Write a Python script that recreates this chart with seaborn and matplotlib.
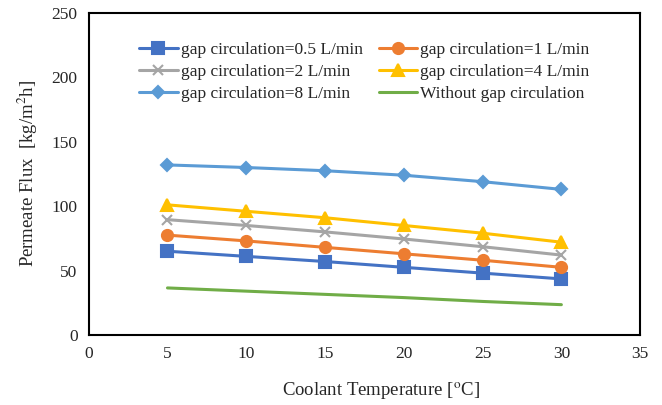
import pandas as pd
import matplotlib.pyplot as plt
import seaborn as sns

# data
temperature = [5, 10, 15, 20, 25, 30]
flux_05 = [65, 61, 57, 52.5, 48, 43.5]
flux_1 = [77.5, 73, 68, 63, 58, 52.5]
flux_2 = [89.5, 85, 80, 74.5, 68.5, 62]
flux_4 = [101, 96, 91, 85, 79, 72]
flux_8 = [132, 130, 127.5, 124, 119, 113]
flux_none = [36.5, 34, 31.5, 29, 26, 23.5]

labels = ["gap circulation=0.5 L/min", "gap circulation=1 L/min",
          "gap circulation=2 L/min", "gap circulation=4 L/min",
          "gap circulation=8 L/min", "Without gap circulation"]
series = [flux_05, flux_1, flux_2, flux_4, flux_8, flux_none]
colors = ["#4472C4", "#ED7D31", "#A5A5A5", "#FFC000", "#5B9BD5", "#70AD47"]
markers = ["s", "o", "x", "^", "D", None]
msizes = [8, 8, 7, 8, 6, 0]

sns.set_style("white")
plt.rcParams['font.family'] = ['Liberation Serif', 'DejaVu Serif']
plt.rcParams['mathtext.fontset'] = 'stix'

fig = plt.figure(figsize=(6.62, 4.05), dpi=100)
ax = fig.add_axes([0.134, 0.173, 0.833, 0.795])

for lab, vals, col, mk, ms in zip(labels, series, colors, markers, msizes):
    df = pd.DataFrame({"T": temperature, "flux": vals})
    sns.lineplot(data=df, x="T", y="flux", ax=ax, color=col, marker=mk,
                 markersize=ms, markeredgecolor=col, markeredgewidth=1.5,
                 linewidth=2.2, label=lab)

ax.set_xlim(0, 35)
ax.set_ylim(0, 250)
ax.set_xticks(range(0, 36, 5))
ax.set_yticks(range(0, 251, 50))
ax.tick_params(length=0, labelsize=12.5, pad=8)
for s in ax.spines.values():
    s.set_color("black")
    s.set_linewidth(1.5)

ax.set_xlabel("Coolant Temperature [$^{\\mathrm{o}}$C]", fontsize=13.5, labelpad=10)
ax.xaxis.set_label_coords(0.53, -0.14)
ax.set_ylabel("Permeate Flux  [kg/m$^{2}$h]", fontsize=13.5, labelpad=8)

# row-major legend order
h, l = ax.get_legend_handles_labels()
order = [0, 2, 4, 1, 3, 5]
ax.legend([h[i] for i in order], [l[i] for i in order], ncol=2, frameon=False,
          fontsize=12.5, loc="upper center", bbox_to_anchor=(0.5, 0.96),
          handlelength=2.2, columnspacing=0.9, handletextpad=0.2,
          labelspacing=0.35)

plt.savefig("out.png", dpi=100)
